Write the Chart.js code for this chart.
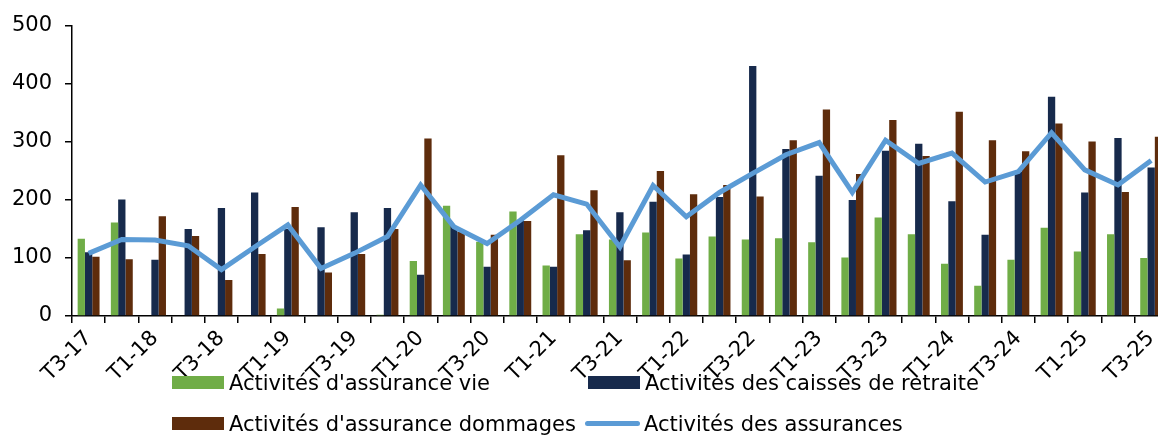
<!DOCTYPE html>
<html lang="fr">
<head>
    <meta charset="UTF-8">
    <title>Activités des assurances</title>
    <script src="https://cdn.jsdelivr.net/npm/chart.js"></script>
    <style>
        html, body { margin: 0; padding: 0; overflow: hidden; background: #fff; }
        .wrap { position: relative; width: 1172px; height: 435px; }
        .legend { position: absolute; left: 0; top: 0; font-family: "DejaVu Sans", Verdana, sans-serif; font-size: 21px; color: #000; }
        .item { position: absolute; white-space: nowrap; line-height: 24px; }
        .box { display: inline-block; width: 52px; height: 13px; vertical-align: middle; margin-right: 5px; margin-top: -3px; }
        .ln { display: inline-block; width: 55px; height: 5px; border-radius: 3px; vertical-align: middle; margin-right: 4px; margin-top: -3px; }
    </style>
</head>
<body>
<div class="wrap">
    <canvas id="chart"></canvas>
    <div class="legend">
        <div class="item" style="left:172px; top:371px;"><span class="box" style="background:#70AD47"></span>Activités d'assurance vie</div>
        <div class="item" style="left:588px; top:371px;"><span class="box" style="background:#172A4C"></span>Activités des caisses de retraite</div>
        <div class="item" style="left:172px; top:412px;"><span class="box" style="background:#5E2C0C"></span>Activités d'assurance dommages</div>
        <div class="item" style="left:585px; top:412px;"><span class="ln" style="background:#5B9BD5"></span>Activités des assurances</div>
    </div>
</div>

<script>
    // trimestres
    const quarters = ['T3-17', 'T4-17', 'T1-18', 'T2-18', 'T3-18', 'T4-18', 'T1-19', 'T2-19', 'T3-19', 'T4-19',
        'T1-20', 'T2-20', 'T3-20', 'T4-20', 'T1-21', 'T2-21', 'T3-21', 'T4-21', 'T1-22', 'T2-22',
        'T3-22', 'T4-22', 'T1-23', 'T2-23', 'T3-23', 'T4-23', 'T1-24', 'T2-24', 'T3-24', 'T4-24',
        'T1-25', 'T2-25', 'T3-25'];

    const assuranceVie = [133, 161, 0, 0, 0, 0, 13, 0, 0, 2,
        95, 190, 128, 180, 87, 141, 132, 144, 99, 137,
        132, 134, 127, 101, 170, 141, 90, 52, 97, 152,
        111, 141, 100];

    const caissesRetraite = [110, 201, 97, 150, 186, 213, 150, 153, 179, 186,
        71, 155, 85, 165, 85, 148, 179, 197, 106, 205,
        431, 288, 242, 200, 285, 297, 198, 140, 249, 378,
        213, 307, 256];

    const assuranceDommages = [102, 98, 172, 138, 62, 107, 188, 75, 107, 150,
        306, 145, 140, 164, 277, 217, 96, 250, 210, 226,
        206, 303, 356, 245, 338, 276, 352, 303, 284, 332,
        301, 214, 309];

    const assurances = [108, 132, 131, 121, 80, 119, 157, 82, 108, 137,
        226, 154, 125, 165, 209, 193, 119, 225, 171, 213,
        246, 278, 299, 213, 303, 263, 281, 231, 249, 316,
        252, 226, 268];

    const font = { family: '"DejaVu Sans", Verdana, sans-serif', size: 21 };

    function barSet(label, data, color) {
        return {
            type: 'bar',
            label: label,
            data: data,
            backgroundColor: color,
            borderWidth: 0,
            categoryPercentage: 0.66,
            barPercentage: 1.0,
            order: 1
        };
    }

    new Chart(document.getElementById('chart'), {
        data: {
            labels: quarters,
            datasets: [
                barSet("Activités d'assurance vie", assuranceVie, '#70AD47'),
                barSet('Activités des caisses de retraite', caissesRetraite, '#172A4C'),
                barSet("Activités d'assurance dommages", assuranceDommages, '#5E2C0C'),
                {
                    type: 'line',
                    label: 'Activités des assurances',
                    data: assurances,
                    borderColor: '#5B9BD5',
                    borderWidth: 5,
                    pointRadius: 0,
                    tension: 0,
                    order: 0
                }
            ]
        },
        options: {
            responsive: true,
            maintainAspectRatio: false,
            animation: false,
            layout: { padding: { top: 26, left: 0, right: 0, bottom: 0 } },
            plugins: {
                legend: { display: false },
                tooltip: { enabled: false }
            },
            scales: {
                x: {
                    grid: { offset: true, drawOnChartArea: false, color: '#000', lineWidth: 1.5, tickLength: 7 },
                    border: { color: '#000', width: 1.5 },
                    ticks: {
                        autoSkip: false,
                        maxRotation: 45,
                        minRotation: 45,
                        padding: 3,
                        color: '#000',
                        font: font,
                        callback: function (value, index) {
                            return index % 2 === 0 ? this.getLabelForValue(value) : '';
                        }
                    },
                    afterFit: function (scale) { scale.height = 119; }
                },
                y: {
                    min: 0,
                    max: 500,
                    grid: { drawOnChartArea: false, color: '#000', lineWidth: 1.5, tickLength: 7 },
                    border: { color: '#000', width: 1.5 },
                    ticks: { stepSize: 100, padding: 13, color: '#000', font: font },
                    afterFit: function (scale) { scale.width = 72; }
                }
            }
        }
    });
</script>
</body>
</html>
